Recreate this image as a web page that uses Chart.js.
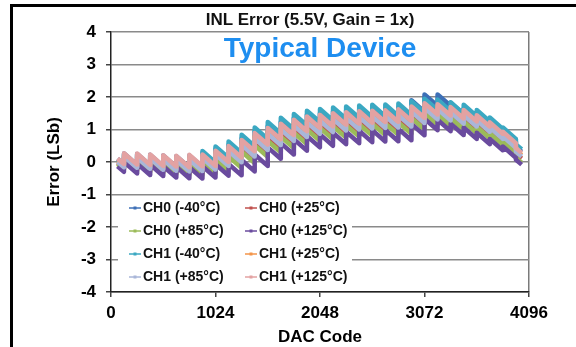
<!DOCTYPE html>
<html><head><meta charset="utf-8">
<style>
html,body{margin:0;padding:0;background:#fff;}
#wrap{position:relative;width:576px;height:347px;overflow:hidden;background:#fff;}
#frame{position:absolute;left:10px;top:4px;right:-10px;bottom:-10px;border-top:3px solid #000;border-left:3px solid #000;pointer-events:none;}
canvas{position:absolute;left:0;top:0;}
</style>
<script src="https://cdn.jsdelivr.net/npm/chart.js@4"></script>
</head><body>
<div id="wrap"><canvas id="c" width="576" height="347"></canvas><div id="frame"></div></div>
<script>
const chartTitle = 'INL Error (5.5V, Gain = 1x)';
const subTitle = 'Typical Device';
const xTitle = 'DAC Code';
const yTitle = 'Error (LSb)';
const xTickValues = [0, 1024, 2048, 3072, 4096];
const xTickLabels = ['0', '1024', '2048', '3072', '4096'];
const yTickValues = [-4, -3, -2, -1, 0, 1, 2, 3, 4];
const yTickLabels = ['-4', '-3', '-2', '-1', '0', '1', '2', '3', '4'];

const seriesNames = ['CH0 (-40°C)', 'CH0 (+25°C)', 'CH0 (+85°C)', 'CH0 (+125°C)',
                     'CH1 (-40°C)', 'CH1 (+25°C)', 'CH1 (+85°C)', 'CH1 (+125°C)'];

const codes = [64,127, 128,255, 256,383, 384,511, 512,639, 640,767, 768,895, 896,1023,
  1024,1151, 1152,1279, 1280,1407, 1408,1535, 1536,1663, 1664,1791, 1792,1919, 1920,2047,
  2048,2175, 2176,2303, 2304,2431, 2432,2559, 2560,2687, 2688,2815, 2816,2943, 2944,3071,
  3072,3199, 3200,3327, 3328,3455, 3456,3583, 3584,3711, 3712,3839, 3840,3967, 3968,4024];

const ch0m40 = [0.10,-0.07, 0.26,-0.09, 0.25,-0.10, 0.22,-0.13, 0.20,-0.15, 0.18,-0.17, 0.20,-0.15, 0.27,-0.08,
  0.40,0.05, 0.53,0.18, 0.73,0.38, 0.95,0.60, 1.11,0.76, 1.24,0.89, 1.36,1.01, 1.46,1.11,
  1.51,1.16, 1.56,1.21, 1.59,1.24, 1.62,1.27, 1.64,1.29, 1.65,1.30, 1.68,1.33, 1.90,1.55,
  2.08,1.73, 2.08,1.73, 1.82,1.47, 1.65,1.30, 1.49,1.14, 1.27,0.92, 0.97,0.62, 0.47,0.32];
const ch0p25 = [-0.02,-0.19, 0.13,-0.22, 0.09,-0.26, 0.06,-0.29, 0.03,-0.32, 0.01,-0.34, 0.02,-0.33, 0.06,-0.29,
  0.16,-0.19, 0.26,-0.09, 0.43,0.08, 0.62,0.27, 0.77,0.42, 0.90,0.55, 1.02,0.67, 1.12,0.77,
  1.17,0.82, 1.22,0.87, 1.25,0.90, 1.28,0.93, 1.30,0.95, 1.31,0.96, 1.34,0.99, 1.46,1.11,
  1.58,1.23, 1.55,1.20, 1.45,1.10, 1.35,1.00, 1.19,0.84, 0.98,0.63, 0.72,0.37, 0.26,0.11];
const ch0p85 = [-0.06,-0.23, 0.08,-0.27, 0.04,-0.31, 0.01,-0.34, -0.03,-0.38, -0.05,-0.40, -0.05,-0.40, -0.01,-0.36,
  0.07,-0.28, 0.17,-0.18, 0.32,-0.03, 0.51,0.16, 0.65,0.30, 0.78,0.43, 0.90,0.55, 1.00,0.65,
  1.05,0.70, 1.10,0.75, 1.13,0.78, 1.16,0.81, 1.18,0.83, 1.19,0.84, 1.22,0.87, 1.35,1.00,
  1.49,1.14, 1.46,1.11, 1.35,1.00, 1.24,0.89, 1.08,0.73, 0.88,0.53, 0.63,0.28, 0.13,-0.02];
const ch0p125 = [-0.13,-0.30, 0.00,-0.35, -0.05,-0.40, -0.08,-0.43, -0.13,-0.48, -0.15,-0.50, -0.16,-0.51, -0.13,-0.48,
  -0.07,-0.42, -0.06,-0.41, 0.06,-0.29, 0.23,-0.12, 0.45,0.10, 0.58,0.23, 0.70,0.35, 0.80,0.45,
  0.85,0.50, 0.90,0.55, 0.93,0.58, 0.96,0.61, 0.98,0.63, 0.99,0.64, 1.02,0.67, 1.17,0.82,
  1.33,0.98, 1.30,0.95, 1.18,0.83, 1.06,0.71, 0.90,0.55, 0.71,0.36, 0.48,0.13, 0.07,-0.08];
const ch1m40 = [0.07,-0.10, 0.23,-0.12, 0.21,-0.14, 0.18,-0.17, 0.16,-0.19, 0.14,-0.21, 0.17,-0.18, 0.34,-0.01,
  0.48,0.13, 0.63,0.28, 0.84,0.49, 1.06,0.71, 1.23,0.88, 1.36,1.01, 1.48,1.13, 1.58,1.23,
  1.63,1.28, 1.68,1.33, 1.71,1.36, 1.74,1.39, 1.76,1.41, 1.77,1.42, 1.80,1.45, 1.87,1.52,
  1.95,1.60, 1.92,1.57, 1.84,1.49, 1.76,1.41, 1.60,1.25, 1.37,1.02, 1.06,0.71, 0.54,0.39];
const ch1p25 = [0.04,-0.13, 0.20,-0.15, 0.17,-0.18, 0.14,-0.21, 0.12,-0.23, 0.10,-0.25, 0.12,-0.23, 0.17,-0.18,
  0.28,-0.07, 0.41,0.06, 0.59,0.24, 0.79,0.44, 0.95,0.60, 1.08,0.73, 1.20,0.85, 1.30,0.95,
  1.35,1.00, 1.40,1.05, 1.43,1.08, 1.46,1.11, 1.48,1.13, 1.49,1.14, 1.52,1.17, 1.62,1.27,
  1.73,1.38, 1.70,1.35, 1.60,1.25, 1.51,1.16, 1.35,1.00, 1.13,0.78, 0.85,0.50, 0.37,0.22];
const ch1p85 = [0.01,-0.16, 0.17,-0.18, 0.14,-0.21, 0.11,-0.24, 0.08,-0.27, 0.06,-0.29, 0.07,-0.28, 0.12,-0.23,
  0.23,-0.12, 0.34,-0.01, 0.52,0.17, 0.72,0.37, 0.87,0.52, 1.00,0.65, 1.12,0.77, 1.22,0.87,
  1.27,0.92, 1.32,0.97, 1.35,1.00, 1.38,1.03, 1.40,1.05, 1.41,1.06, 1.44,1.09, 1.55,1.20,
  1.66,1.31, 1.63,1.28, 1.53,1.18, 1.44,1.09, 1.28,0.93, 1.06,0.71, 0.79,0.44, 0.32,0.17];
const ch1p125 = [0.11,-0.06, 0.27,-0.08, 0.26,-0.09, 0.23,-0.12, 0.21,-0.14, 0.19,-0.16, 0.22,-0.13, 0.23,-0.12,
  0.35,0.00, 0.49,0.14, 0.68,0.33, 0.89,0.54, 1.05,0.70, 1.18,0.83, 1.30,0.95, 1.40,1.05,
  1.45,1.10, 1.50,1.15, 1.53,1.18, 1.56,1.21, 1.58,1.23, 1.59,1.24, 1.62,1.27, 1.71,1.36,
  1.81,1.46, 1.78,1.43, 1.69,1.34, 1.60,1.25, 1.44,1.09, 1.22,0.87, 0.93,0.58, 0.43,0.28];

const seriesValues = [ch0m40, ch0p25, ch0p85, ch0p125, ch1m40, ch1p25, ch1p85, ch1p125];
const seriesColors = ['#3d6fb6', '#c0504d', '#9bbb59', '#6a4b9e', '#3ba8c2', '#f3954a', '#a9b6d8', '#e3a2a2'];

const FONT = '"Liberation Sans", Arial, Helvetica, sans-serif';
Chart.defaults.font.family = FONT;
Chart.defaults.color = '#000';

const datasets = seriesNames.map((name, i) => ({
  label: name,
  data: codes.map((c, j) => ({ x: c, y: seriesValues[i][j] })),
  borderColor: seriesColors[i],
  backgroundColor: seriesColors[i],
  borderWidth: 4.5,
  borderJoinStyle: 'round',
  pointRadius: 0,
  tension: 0,
  fill: false,
  order: seriesNames.length - i
}));

const overlay = {
  id: 'overlay',
  afterDraw(chart) {
    const { ctx, chartArea: a, scales } = chart;
    ctx.save();
    ctx.textAlign = 'center';
    ctx.textBaseline = 'alphabetic';
    ctx.fillStyle = '#111';
    ctx.font = 'bold 17px ' + FONT;
    ctx.fillText(chartTitle, 310, 25);
    ctx.fillStyle = '#1e8ef0';
    ctx.font = 'bold 28px ' + FONT;
    ctx.fillText(subTitle, (a.left + a.right) / 2, a.top + 25);
    // inset legend
    const boxTop = scales.y.getPixelForValue(-1) + 3;
    ctx.fillStyle = '#fff';
    ctx.fillRect(a.left + 7, boxTop, 234, a.bottom - 3 - boxTop);
    ctx.font = 'bold 14px ' + FONT;
    ctx.textAlign = 'left';
    ctx.textBaseline = 'middle';
    chart.data.datasets.forEach((ds, i) => {
      const row = Math.floor(i / 2), col = i % 2;
      const y = a.bottom - 84 + row * 23;
      const mx = a.left + (col ? 134 : 18);
      ctx.strokeStyle = ds.borderColor;
      ctx.lineWidth = 1.5;
      ctx.beginPath(); ctx.moveTo(mx, y); ctx.lineTo(mx + 12, y); ctx.stroke();
      ctx.fillStyle = ds.borderColor;
      ctx.fillRect(mx + 4.5, y - 1.5, 3, 3);
      ctx.fillStyle = '#111';
      ctx.fillText(ds.label, mx + 14, y + 0.5);
    });
    ctx.restore();
  }
};

new Chart(document.getElementById('c'), {
  type: 'line',
  data: { datasets },
  options: {
    responsive: false,
    animation: false,
    devicePixelRatio: 1,
    layout: { padding: { left: 11, right: 47, top: 32, bottom: 0 } },
    plugins: { legend: { display: false }, title: { display: false }, tooltip: { enabled: false } },
    scales: {
      x: {
        type: 'linear', min: 0, max: 4096,
        afterFit: s => { s.height = 55; },
        afterBuildTicks: s => { s.ticks = xTickValues.map(v => ({ value: v })); },
        ticks: { callback: (v, i) => xTickLabels[i], font: { size: 17, weight: 'bold' }, color: '#000', padding: 6, maxRotation: 0, autoSkip: false },
        grid: { drawOnChartArea: true, color: ctx => (ctx.tick && ctx.tick.value === 4096) ? '#7a7a7a' : 'rgba(0,0,0,0)', tickColor: '#444', tickLength: 5, lineWidth: 1.5 },
        border: { color: '#222', width: 1.5 },
        title: { display: true, text: xTitle, font: { size: 17, weight: 'bold', lineHeight: 1.2 }, color: '#000', padding: { top: 0, bottom: -1 } }
      },
      y: {
        min: -4, max: 4,
        afterFit: s => { s.width = 100; },
        afterBuildTicks: s => { s.ticks = yTickValues.map(v => ({ value: v })); },
        ticks: { callback: (v, i) => yTickLabels[i], font: { size: 17, weight: 'bold' }, color: '#000', padding: 10 },
        grid: { color: '#8a8a8a', lineWidth: 1.5, tickLength: 5, tickColor: '#444' },
        border: { color: '#222', width: 1.5 },
        title: { display: true, text: yTitle, font: { size: 17, weight: 'bold', lineHeight: 1.2 }, color: '#000', padding: { top: 33, bottom: 0 } }
      }
    }
  },
  plugins: [overlay]
});
</script>
</body></html>
